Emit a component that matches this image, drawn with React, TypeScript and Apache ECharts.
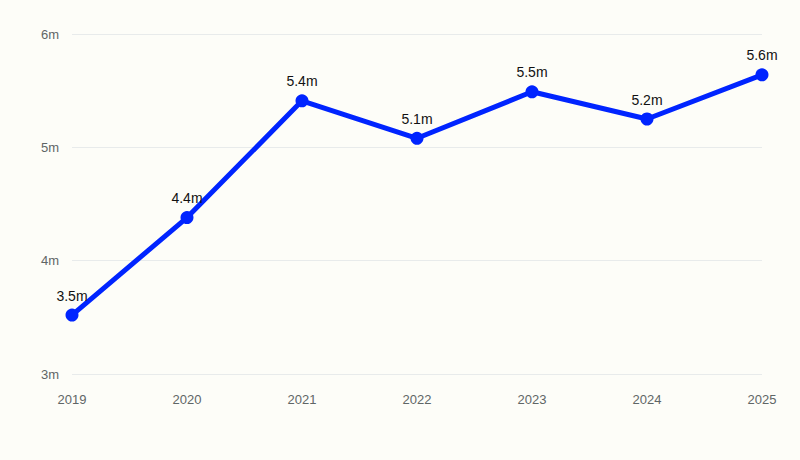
import React, { useEffect, useRef } from 'react';
import * as echarts from 'echarts';

const years = ['2019', '2020', '2021', '2022', '2023', '2024', '2025'];
const values = [3.52, 4.38, 5.41, 5.08, 5.49, 5.25, 5.64];
const fmt = (v: number) => `${(Math.round(v * 10 - 0.01) / 10).toFixed(1)}m`;

const App: React.FC = () => {
  const chartRef = useRef<HTMLDivElement>(null);

  useEffect(() => {
    document.body.style.margin = '0';
    document.body.style.background = '#fdfdf8';
    if (!chartRef.current) return;
    const myChart = echarts.init(chartRef.current, null, { renderer: 'svg' });
    const option = {
      animation: false,
      backgroundColor: '#fdfdf8',
      textStyle: { fontFamily: 'Liberation Sans, Arial, sans-serif' },
      grid: { left: 72, right: 38, top: 34, bottom: 86 },
      xAxis: {
        type: 'category',
        data: years,
        boundaryGap: false,
        axisLine: { show: false },
        axisTick: { show: false },
        axisLabel: { color: '#5f6666', fontSize: 13, margin: 19 },
      },
      yAxis: {
        type: 'value',
        min: 3,
        max: 6,
        interval: 1,
        axisLabel: { color: '#5f6666', fontSize: 13, margin: 13, formatter: (v: number) => `${v}m` },
        splitLine: { lineStyle: { color: '#e8ebeb', width: 1 } },
      },
      series: [
        {
          type: 'line',
          data: values,
          symbol: 'circle',
          symbolSize: 13,
          lineStyle: { color: '#0024ff', width: 5 },
          itemStyle: { color: '#0024ff' },
          label: {
            show: true,
            position: 'top',
            distance: 6,
            color: '#111',
            fontSize: 14,
            formatter: (p: any) => fmt(p.value),
          },
        },
      ],
    };
    myChart.setOption(option);
    return () => { myChart.dispose(); };
  }, []);

  return <div ref={chartRef} style={{ width: 800, height: 460 }} />;
};

export default App;
